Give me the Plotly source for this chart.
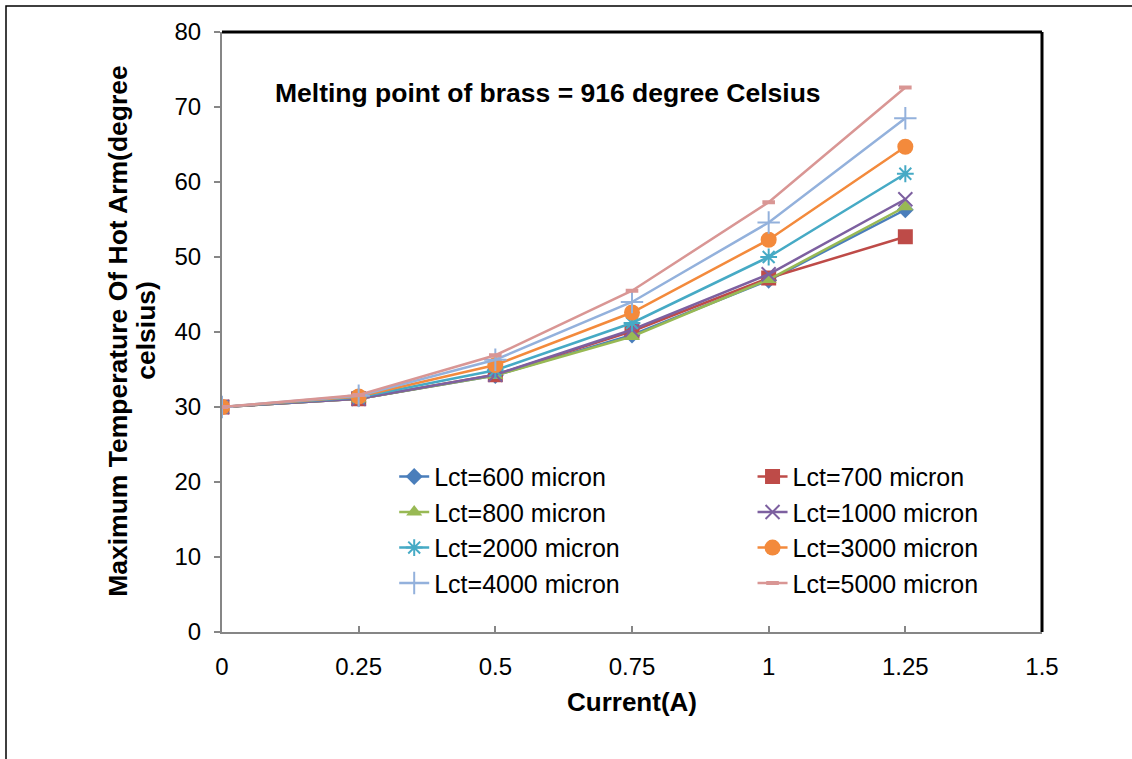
import plotly.graph_objects as go

# Current values (A)
current = [0, 0.25, 0.5, 0.75, 1.0, 1.25]

# Maximum hot-arm temperature for each cold-arm length
lct_labels = ["Lct=600 micron", "Lct=700 micron", "Lct=800 micron", "Lct=1000 micron",
              "Lct=2000 micron", "Lct=3000 micron", "Lct=4000 micron", "Lct=5000 micron"]
temp_600 = [30, 31.1, 34.2, 39.6, 46.9, 56.3]
temp_700 = [30, 31.1, 34.3, 40.1, 47.2, 52.7]
temp_800 = [30, 31.1, 34.2, 39.4, 47.0, 56.7]
temp_1000 = [30, 31.1, 34.3, 40.3, 47.7, 57.7]
temp_2000 = [30, 31.3, 34.9, 41.2, 50.0, 61.1]
temp_3000 = [30, 31.4, 35.6, 42.6, 52.3, 64.7]
temp_4000 = [30, 31.5, 36.3, 44.0, 54.6, 68.5]
temp_5000 = [30, 31.6, 36.9, 45.5, 57.3, 72.6]

series = [temp_600, temp_700, temp_800, temp_1000, temp_2000, temp_3000, temp_4000, temp_5000]

colors = ["#4A7EBB", "#BE4B48", "#98B954", "#7D60A0", "#46AAC5", "#F38A3C", "#93B1DC", "#D99694"]
symbols = ["diamond", "square", "triangle-up", "x-thin-open", "asterisk-open",
           "circle", "cross-thin-open", "line-ew-open"]
sizes = [13, 15, 14, 14, 14, 16, 16, 9]

fig = go.Figure()
for i, (name, ys, c, sym, sz) in enumerate(zip(lct_labels, series, colors, symbols, sizes)):
    open_sym = sym.endswith("-open")
    fig.add_trace(go.Scatter(
        x=current, y=ys, name=name, mode="lines+markers",
        # left legend column holds even entries, right column odd ones
        legend="legend" if i % 2 == 0 else "legend2",
        line=dict(color=c, width=2.5),
        marker=dict(symbol=sym, size=sz, color=c,
                    line=dict(color=c, width=4 if sym == "line-ew-open" else (2 if open_sym else 0))),
    ))

font_family = "Liberation Sans, Arial, sans-serif"
legend_style = dict(
    orientation="v", yanchor="top", xanchor="left",
    font=dict(size=25, color="black"), bgcolor="rgba(0,0,0,0)",
    tracegroupgap=0,
)

y_title_font = dict(size=26.5, color="black")

fig.update_layout(
    width=1132, height=759,
    margin=dict(l=222, r=90, t=32, b=127),
    paper_bgcolor="white", plot_bgcolor="white",
    font=dict(family=font_family, size=24, color="black"),
    showlegend=True,
    legend=dict(x=0.21, y=0.297, **legend_style),
    legend2=dict(x=0.647, y=0.297, **legend_style),
    xaxis=dict(
        range=[0, 1.5], tickvals=[0, 0.25, 0.5, 0.75, 1, 1.25, 1.5],
        ticktext=["0", "0.25", "0.5", "0.75", "1", "1.25", "1.5"],
        showgrid=False, zeroline=False,
        showline=True, linecolor="#868686", linewidth=2,
        ticks="inside", ticklen=6, tickcolor="#868686", tickwidth=1.5,
        tickfont=dict(size=24), ticklabelstandoff=12,
        title=dict(text="<b>Current(A)</b>", font=dict(size=26), standoff=14),
    ),
    yaxis=dict(
        range=[0, 80], tickvals=list(range(0, 81, 10)),
        showgrid=False, zeroline=False,
        showline=True, linecolor="#868686", linewidth=2,
        ticks="outside", ticklen=6, tickcolor="#868686", tickwidth=1.5,
        tickfont=dict(size=24), ticklabelstandoff=8,
    ),
    annotations=[
        dict(text="<b>Melting point of brass = 916 degree Celsius</b>",
             xref="paper", yref="paper", x=0.062, y=0.898,
             xanchor="left", yanchor="middle", showarrow=False,
             font=dict(size=26.5, color="black")),
        # y-axis title, two rotated lines
        dict(text="<b>Maximum Temperature Of Hot Arm(degree</b>",
             xref="paper", yref="paper", x=(118 - 222) / 820, y=0.502,
             xanchor="center", yanchor="middle", showarrow=False, textangle=-90,
             font=y_title_font),
        dict(text="<b>celsius)</b>",
             xref="paper", yref="paper", x=(146 - 222) / 820, y=0.502,
             xanchor="center", yanchor="middle", showarrow=False, textangle=-90,
             font=y_title_font),
    ],
    shapes=[
        # black top and right edges of the plot box
        dict(type="line", xref="paper", yref="paper", x0=0, y0=1, x1=1, y1=1,
             line=dict(color="black", width=3)),
        dict(type="line", xref="paper", yref="paper", x0=1, y0=0, x1=1, y1=1,
             line=dict(color="black", width=3)),
        # outer chart frame
        dict(type="rect", xref="paper", yref="paper",
             x0=(6 - 222) / 820, y0=-0.3, x1=1.2, y1=(632 - 6) / 600,
             line=dict(color="black", width=1.5), layer="below"),
    ],
)

fig.write_html("out.html")
